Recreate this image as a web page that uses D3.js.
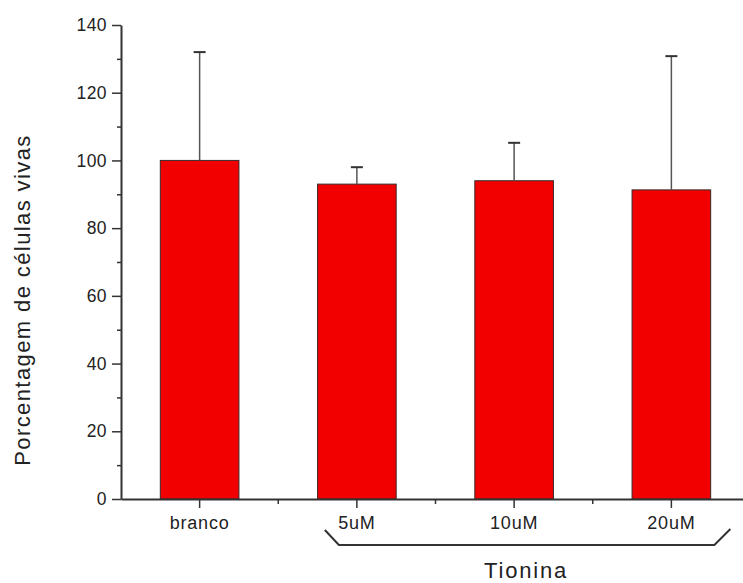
<!DOCTYPE html>
<html>
<head>
<meta charset="utf-8">
<script src="https://cdn.jsdelivr.net/npm/d3@7"></script>
<style>
html,body{margin:0;padding:0;background:#fff;}
svg{display:block;}
svg text{font-family:Arial,"Liberation Sans",sans-serif;}
</style>
</head>
<body>
<svg id="chart" width="743" height="583"></svg>
<script>
const categories = ["branco", "5uM", "10uM", "20uM"];
const values = [100, 93, 94, 91.3];
const errors = [32, 5, 11.2, 39.5];
const yTicks = [0, 20, 40, 60, 80, 100, 120, 140];
const yMinorTicks = [10, 30, 50, 70, 90, 110, 130];
const yLabel = "Porcentagem de células vivas";
const groupLabel = "Tionina";

const svg = d3.select("#chart");
const x0 = 121, x1 = 750, yTop = 25, yBot = 499;

const x = d3.scaleBand().domain(categories).range([x0, x1]).paddingInner(0.5).paddingOuter(0.25);
const y = d3.scaleLinear().domain([0, 140]).range([yBot, yTop]);

const axisColor = "#333";

// bars
svg.append("g").selectAll("rect").data(categories).join("rect")
  .attr("x", d => x(d))
  .attr("y", (d, i) => y(values[i]))
  .attr("width", x.bandwidth())
  .attr("height", (d, i) => y(0) - y(values[i]))
  .attr("fill", "#f20000")
  .attr("stroke", "#3a2a2a")
  .attr("stroke-width", 1);

// error bars
const eg = svg.append("g").attr("stroke", "#555").attr("stroke-width", 1.5);
categories.forEach((c, i) => {
  const cx = x(c) + x.bandwidth() / 2;
  eg.append("line").attr("x1", cx).attr("x2", cx).attr("y1", y(values[i])).attr("y2", y(values[i] + errors[i]));
  eg.append("line").attr("x1", cx - 6).attr("x2", cx + 6).attr("y1", y(values[i] + errors[i])).attr("y2", y(values[i] + errors[i])).attr("stroke", "#333").attr("stroke-width", 2);
});

// y axis
const yAxis = d3.axisLeft(y).tickValues(yTicks).tickSize(9).tickPadding(5).tickSizeOuter(0);
const gy = svg.append("g").attr("transform", `translate(${x0},0)`).call(yAxis);
gy.selectAll("text").style("font-size", "17.5px").style("letter-spacing", "0.4px").attr("fill", "#222");
const yMinor = d3.axisLeft(y).tickValues(yMinorTicks).tickSize(4).tickFormat("").tickSizeOuter(0);
const gym = svg.append("g").attr("transform", `translate(${x0},0)`).call(yMinor);
gym.select(".domain").remove();

// x axis
const xAxis = d3.axisBottom(x).tickSize(9).tickPadding(8).tickSizeOuter(0);
const gx = svg.append("g").attr("transform", `translate(0,${yBot})`).call(xAxis);
gx.selectAll("text").style("font-size", "18px").style("letter-spacing", "0.8px").attr("fill", "#222");
// minor x ticks between categories
const step = x.step();
const minorX = categories.slice(0, -1).map(c => x(c) + x.bandwidth() / 2 + step / 2);
svg.append("g").selectAll("line").data(minorX).join("line")
  .attr("x1", d => d).attr("x2", d => d).attr("y1", yBot).attr("y2", yBot + 5)
  .attr("stroke", axisColor).attr("stroke-width", 1.5);

[gy, gym, gx].forEach(g => {
  g.selectAll("path.domain").attr("stroke", axisColor).attr("stroke-width", 2);
  g.selectAll(".tick line").attr("stroke", axisColor).attr("stroke-width", 1.5);
});

// bracket
const bx1 = x(categories[1]) + x.bandwidth() / 2 - 32;
const bx2 = x(categories[3]) + x.bandwidth() / 2 + 59;
svg.append("path")
  .attr("d", `M${bx1},530 L${bx1 + 14},545 L${bx2 - 16},545 L${bx2},529`)
  .attr("fill", "none").attr("stroke", "#333").attr("stroke-width", 2);

// labels
svg.append("text").attr("x", 526).attr("y", 578).attr("text-anchor", "middle")
  .style("font-size", "22px").style("letter-spacing", "1.8px").attr("fill", "#222").text(groupLabel);
svg.append("text").attr("transform", "translate(30,300) rotate(-90)").attr("text-anchor", "middle")
  .style("font-size", "22px").style("letter-spacing", "1.4px").attr("fill", "#222").text(yLabel);
</script>
</body>
</html>
